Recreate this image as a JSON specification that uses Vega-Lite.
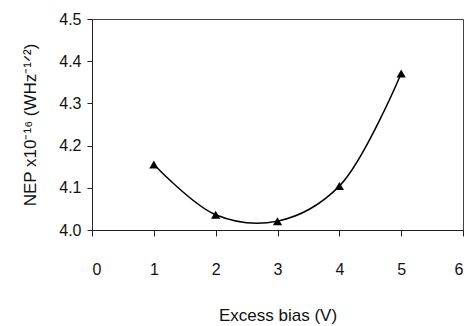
{
  "$schema": "https://vega.github.io/schema/vega-lite/v6.json",
  "width": 371,
  "height": 211,
  "autosize": {"type": "none"},
  "padding": {"left": 92, "top": 19, "right": 4, "bottom": 96},
  "background": "white",
  "config": {
    "font": "Liberation Sans",
    "view": {"stroke": "#444", "strokeWidth": 1},
    "axis": {"grid": false, "domainColor": "#222", "tickColor": "#222", "labelColor": "#111", "titleColor": "#111", "labelFontSize": 16, "titleFontSize": 17, "titleFontWeight": "normal", "tickSize": 5}
  },
  "data": {
    "values": [
      {"bias": 1, "nep": 4.155},
      {"bias": 2, "nep": 4.036},
      {"bias": 3, "nep": 4.021},
      {"bias": 4, "nep": 4.104},
      {"bias": 5, "nep": 4.371}
    ]
  },
  "encoding": {
    "x": {"field": "bias", "type": "quantitative", "scale": {"domain": [0, 6], "nice": false, "zero": false},
      "axis": {"values": [0, 1, 2, 3, 4, 5, 6], "title": "Excess bias (V)", "labelPadding": 25, "titlePadding": 30, "tickSize": 6}},
    "y": {"field": "nep", "type": "quantitative", "scale": {"domain": [4.0, 4.5], "nice": false, "zero": false},
      "axis": {"values": [4.0, 4.1, 4.2, 4.3, 4.4, 4.5], "format": ".1f", "title": "NEP x10⁻¹⁶ (WHz⁻¹ᐟ²)", "labelPadding": 6, "titlePadding": 19}}
  },
  "layer": [
    {"mark": {"type": "line", "interpolate": "catmull-rom", "color": "black", "strokeWidth": 1.5}},
    {"mark": {"type": "point", "shape": "triangle-up", "filled": true, "color": "black", "opacity": 1, "size": 85}}
  ]
}
